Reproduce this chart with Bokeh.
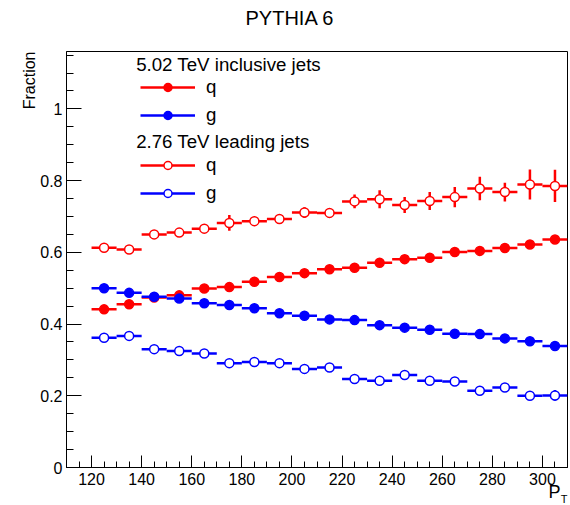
from bokeh.plotting import figure
from bokeh.models import (ColumnDataSource, FixedTicker, NumeralTickFormatter,
                          Legend, LegendItem, Label, Range1d, Title)
from bokeh.embed import file_html
from bokeh.resources import INLINE

# ---- data (bin centres in GeV, bin half-width 5) ----
pt = [125, 135, 145, 155, 165, 175, 185, 195, 205, 215,
      225, 235, 245, 255, 265, 275, 285, 295, 305]
bin_half = 5

# 5.02 TeV inclusive jets
q502 = [0.441, 0.455, 0.474, 0.480, 0.499, 0.503, 0.518, 0.531, 0.542, 0.553,
        0.557, 0.571, 0.581, 0.585, 0.601, 0.604, 0.612, 0.622, 0.636]
q502_err = [0.003] * 19
g502 = [0.500, 0.487, 0.476, 0.471, 0.458, 0.453, 0.444, 0.430, 0.423, 0.413,
        0.411, 0.397, 0.390, 0.384, 0.373, 0.372, 0.360, 0.352, 0.339]
g502_err = [0.003] * 19

# 2.76 TeV leading jets
q276 = [0.613, 0.608, 0.650, 0.655, 0.666, 0.682, 0.687, 0.693, 0.711, 0.710,
        0.742, 0.748, 0.732, 0.743, 0.754, 0.778, 0.768, 0.789, 0.785]
q276_err = [0.008, 0.010, 0.008, 0.012, 0.010, 0.022, 0.012, 0.012, 0.015, 0.013,
            0.019, 0.025, 0.022, 0.025, 0.028, 0.033, 0.026, 0.042, 0.045]
g276 = [0.362, 0.367, 0.330, 0.325, 0.318, 0.291, 0.294, 0.291, 0.275, 0.279,
        0.247, 0.242, 0.258, 0.242, 0.240, 0.214, 0.223, 0.200, 0.201]
g276_err = [0.005, 0.005, 0.005, 0.005, 0.005, 0.005, 0.005, 0.005, 0.005, 0.005,
            0.005, 0.006, 0.008, 0.006, 0.010, 0.008, 0.012, 0.012, 0.015]

y_ticks = [0, 0.2, 0.4, 0.6, 0.8, 1.0]
y_minor = [round(0.05 * i, 2) for i in range(0, 24)]
x_ticks = [120, 140, 160, 180, 200, 220, 240, 260, 280, 300]
x_minor = list(range(110, 311, 5))

FONT = "Liberation Sans"

p = figure(width=570, height=505, output_backend="svg", toolbar_location=None,
           x_range=Range1d(110, 310), y_range=Range1d(0, 1.16),
           min_border_left=66, min_border_right=3, min_border_top=51,
           min_border_bottom=38)
p.background_fill_color = "white"
p.border_fill_color = "white"
p.xgrid.visible = False
p.ygrid.visible = False
p.outline_line_color = "black"
p.outline_line_width = 1
p.outline_line_alpha = 1

for ax in (p.xaxis[0], p.yaxis[0]):
    ax.axis_line_color = "black"
    ax.major_tick_line_color = "black"
    ax.minor_tick_line_color = "black"
    ax.major_tick_out = 0
    ax.minor_tick_out = 0
    ax.major_label_text_font = FONT
    ax.major_label_text_font_size = "16px"
    ax.major_label_text_color = "black"

p.yaxis[0].ticker = FixedTicker(ticks=y_ticks, minor_ticks=y_minor)
p.yaxis[0].formatter = NumeralTickFormatter(format="0.[0]")
p.yaxis[0].major_tick_in = 15
p.yaxis[0].minor_tick_in = 7
p.yaxis[0].major_label_standoff = 4

p.xaxis[0].ticker = FixedTicker(ticks=x_ticks, minor_ticks=x_minor)
p.xaxis[0].major_tick_in = 12
p.xaxis[0].minor_tick_in = 6
p.xaxis[0].major_label_standoff = 5


def draw(y, err, color, filled):
    src = ColumnDataSource(dict(
        x=pt,
        x0=[v - bin_half for v in pt],
        x1=[v + bin_half for v in pt],
        y=y,
        ylo=[a - b for a, b in zip(y, err)],
        yhi=[a + b for a, b in zip(y, err)],
    ))
    hseg = p.segment(x0="x0", y0="y", x1="x1", y1="y", source=src,
                     line_color=color, line_width=2.5)
    p.segment(x0="x", y0="ylo", x1="x", y1="yhi", source=src,
              line_color=color, line_width=2.5)
    sc = p.scatter(x="x", y="y", source=src, marker="circle", size=9,
                   fill_color=color if filled else "white",
                   line_color=color, line_width=1.5)
    return [hseg, sc]


r_q276 = draw(q276, q276_err, "#ff0000", False)
r_g276 = draw(g276, g276_err, "#0000ff", False)
r_q502 = draw(q502, q502_err, "#ff0000", True)
r_g502 = draw(g502, g502_err, "#0000ff", True)


def make_legend(items, loc):
    lg = Legend(items=items, location=loc, glyph_width=55, glyph_height=20,
                label_height=20, spacing=6, padding=0, margin=0,
                label_standoff=11, border_line_color=None,
                background_fill_alpha=0, label_text_font=FONT,
                label_text_font_size="18.7px", label_text_color="black")
    p.add_layout(lg)


make_legend([LegendItem(label="q", renderers=r_q502),
             LegendItem(label="g", renderers=r_g502)], (74, 341))
make_legend([LegendItem(label="q", renderers=r_q276),
             LegendItem(label="g", renderers=r_g276)], (74, 263))

# legend headers (inside the frame)
for txt, yy in (("5.02 TeV inclusive jets", 1.1237), ("2.76 TeV leading jets", 0.910)):
    p.add_layout(Label(x=137.8, y=yy, text=txt, text_font=FONT,
                       text_font_size="18.7px", text_baseline="middle",
                       text_align="left", text_color="black"))

# title (spacer keeps it up near the top edge)
p.add_layout(Title(text=" ", text_font_size="1px", standoff=20), "above")
p.add_layout(Title(text="PYTHIA 6", align="left", offset=179, standoff=0,
                   vertical_align="bottom", text_font=FONT,
                   text_font_size="20px", text_font_style="normal",
                   text_color="black"), "above")

# y axis title at the top of the axis
p.add_layout(Title(text="Fraction", align="right", offset=0, standoff=0,
                   vertical_align="bottom", text_font=FONT,
                   text_font_size="16px", text_font_style="normal",
                   text_color="black"), "left")

# x axis title P_T at the right end
p.add_layout(Title(text="P", align="right", offset=7, standoff=-11,
                   vertical_align="top", text_font=FONT,
                   text_font_size="18px", text_font_style="normal",
                   text_color="black"), "below")
p.add_layout(Title(text="T", align="right", offset=0, standoff=-12,
                   vertical_align="top", text_font=FONT,
                   text_font_size="11px", text_font_style="normal",
                   text_color="black"), "below")

open("out.html", "w").write(file_html(p, INLINE))
